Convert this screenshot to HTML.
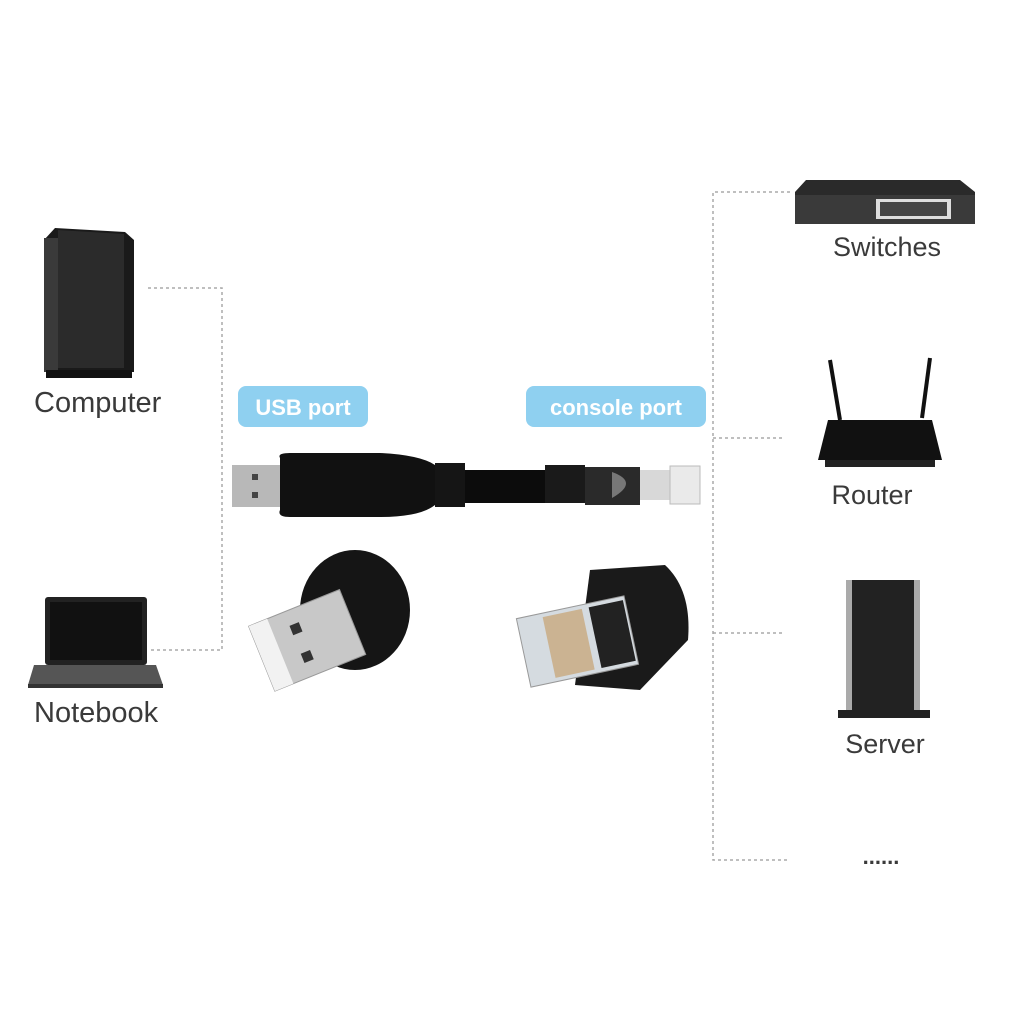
<!DOCTYPE html>
<html><head><meta charset="utf-8"><style>
html,body{margin:0;padding:0;background:#fff}
svg{display:block}
text{font-family:"Liberation Sans",sans-serif}
</style></head><body>
<svg width="1024" height="1024" viewBox="0 0 1024 1024">
<rect width="1024" height="1024" fill="#fff"/>
<g stroke="#aaa" stroke-width="1.5" stroke-dasharray="3,3" fill="none">
<path d="M148 288H222V650H150"/>
<path d="M790 192H713V860H787"/>
<path d="M713 438H785M713 633H785"/>
</g>
<path d="M55 228L125 232L134 240L134 372L44 372L44 240Z" fill="#1a1a1a"/>
<path d="M58 230L124 234L124 368L58 368Z" fill="#2b2b2b"/>
<rect x="44" y="238" width="14" height="134" fill="#3a3a3a"/>
<rect x="46" y="370" width="86" height="8" fill="#111"/>
<text x="34" y="412" font-size="29" fill="#3a3a3a">Computer</text>
<rect x="45" y="597" width="102" height="68" rx="3" fill="#222"/>
<rect x="50" y="602" width="92" height="58" fill="#111"/>
<path d="M34 665H156L163 685H28Z" fill="#555"/>
<rect x="28" y="684" width="135" height="4" fill="#333"/>
<text x="34" y="722" font-size="29" fill="#3a3a3a">Notebook</text>
<rect x="238" y="386" width="130" height="41" rx="8" fill="#8fd0f0"/>
<text x="303" y="415" font-size="22" font-weight="bold" fill="#fff" text-anchor="middle">USB port</text>
<rect x="526" y="386" width="180" height="41" rx="8" fill="#8fd0f0"/>
<text x="616" y="415" font-size="22" font-weight="bold" fill="#fff" text-anchor="middle">console port</text>
<rect x="232" y="465" width="48" height="42" fill="#b8b8b8"/>
<rect x="252" y="474" width="6" height="6" fill="#444"/><rect x="252" y="492" width="6" height="6" fill="#444"/>
<path d="M280 458Q277 453 290 453L380 453Q420 455 435 465V505Q420 517 380 517L290 517Q277 517 280 510Z" fill="#111"/>
<rect x="435" y="463" width="30" height="44" fill="#151515"/>
<rect x="465" y="470" width="80" height="33" fill="#0c0c0c"/>
<rect x="545" y="465" width="40" height="38" fill="#1a1a1a"/>
<path d="M585 467L640 467L640 505L585 505Z" fill="#2a2a2a"/>
<path d="M612 472Q640 482 612 498Z" fill="#777"/>
<rect x="640" y="470" width="30" height="30" fill="#d8d8d8"/>
<rect x="670" y="466" width="30" height="38" fill="#eaeaea" stroke="#bbb"/>
<ellipse cx="355" cy="610" rx="55" ry="60" fill="#151515"/>
<g transform="rotate(-22 310 650)">
<rect x="262" y="605" width="98" height="70" fill="#c8c8c8" stroke="#999"/>
<rect x="262" y="605" width="20" height="70" fill="#f2f2f2"/>
<rect x="300" y="620" width="10" height="10" fill="#333"/><rect x="300" y="650" width="10" height="10" fill="#333"/>
</g>
<path d="M590 570L665 565Q692 590 688 640L640 690L575 685Z" fill="#1a1a1a"/>
<g transform="rotate(-12 570 640)">
<rect x="522" y="608" width="110" height="70" fill="#d5dbe0" stroke="#999"/>
<rect x="548" y="612" width="40" height="62" fill="#c6a270" opacity=".7"/>
<rect x="595" y="612" width="35" height="62" fill="#222"/>
</g>
<path d="M806 180H960L975 192V224H795V192Z" fill="#2a2a2a"/>
<rect x="795" y="195" width="180" height="29" fill="#3a3a3a"/>
<rect x="876" y="199" width="75" height="20" fill="#ddd"/>
<rect x="880" y="202" width="67" height="14" fill="#444"/>
<text x="887" y="256" font-size="27" fill="#3a3a3a" text-anchor="middle">Switches</text>
<line x1="830" y1="360" x2="840" y2="420" stroke="#111" stroke-width="4"/>
<line x1="930" y1="358" x2="922" y2="418" stroke="#111" stroke-width="4"/>
<path d="M828 420H932L942 460H818Z" fill="#111"/>
<rect x="825" y="460" width="110" height="7" fill="#222"/>
<text x="872" y="504" font-size="27" fill="#3a3a3a" text-anchor="middle">Router</text>
<rect x="848" y="580" width="70" height="130" fill="#222"/>
<rect x="846" y="580" width="6" height="130" fill="#aaa"/><rect x="914" y="580" width="6" height="130" fill="#aaa"/>
<rect x="838" y="710" width="92" height="8" fill="#222"/>
<text x="885" y="753" font-size="27" fill="#3a3a3a" text-anchor="middle">Server</text>
<text x="881" y="864" font-size="22" font-weight="bold" fill="#3a3a3a" text-anchor="middle">......</text>
</svg>
</body></html>
